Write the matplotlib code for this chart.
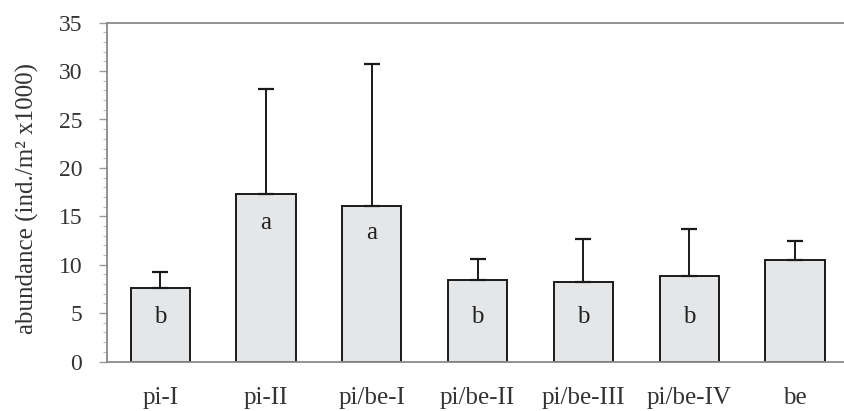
import matplotlib
matplotlib.use("Agg")
import matplotlib.pyplot as plt
from matplotlib.ticker import MultipleLocator

categories = ["pi-I", "pi-II", "pi/be-I", "pi/be-II", "pi/be-III", "pi/be-IV", "be"]
means = [7.6, 17.3, 16.1, 8.45, 8.25, 8.85, 10.5]
upper = [9.2, 28.15, 30.7, 10.6, 12.65, 13.7, 12.45]
letters = ["b", "a", "a", "b", "b", "b", ""]
letter_y = [4.6, 14.3, 13.3, 4.6, 4.6, 4.6, 0]

errs = [u - m for u, m in zip(upper, means)]

plt.rcParams["font.family"] = ["Liberation Serif", "DejaVu Serif"]

fig = plt.figure(figsize=(8.44, 4.11), dpi=100)
W, H = 844, 411
left, right, top, bottom = 107.3, 848.0, 22.7, 361.5
ax = fig.add_axes([left / W, 1 - bottom / H, (right - left) / W, (bottom - top) / H])

x = list(range(len(categories)))
ax.bar(x, means, width=0.56, color="#e5e6e8", edgecolor="#1a1a1a", linewidth=1.4, zorder=2)
ax.errorbar(x, means, yerr=[[0] * len(errs), errs], fmt="none", ecolor="#1a1a1a",
            elinewidth=1.4, capsize=6, capthick=1.6, zorder=3)

for xi, lt, ly in zip(x, letters, letter_y):
    if lt:
        ax.text(xi, ly, lt, ha="center", va="center", fontsize=18, color="#222222", zorder=4)

ax.set_xlim(-0.5, len(categories) - 0.5)
ax.set_ylim(0, 35)
ax.yaxis.set_major_locator(MultipleLocator(5))
ax.yaxis.set_minor_locator(MultipleLocator(1))
ax.tick_params(axis="y", which="major", length=6, width=1, color="#999999",
               labelsize=17, labelcolor="#333333", pad=12)
ax.tick_params(axis="y", which="minor", length=3, width=0.8, color="#bbbbbb")
ax.set_xticks(x)
ax.set_xticklabels(categories)
ax.tick_params(axis="x", length=0, labelsize=18, labelcolor="#333333", pad=18)

for s in ["left", "bottom", "top"]:
    ax.spines[s].set_color("#8a8a8a")
    ax.spines[s].set_linewidth(1.3)
ax.spines["right"].set_visible(False)

ax.set_ylabel("abundance (ind./m² x1000)", fontsize=18, color="#333333",
              va="center", ha="center")
ax.yaxis.set_label_coords((27 - left) / (right - left), (bottom - 198) / (bottom - top))

fig.savefig("out.png", dpi=100)
